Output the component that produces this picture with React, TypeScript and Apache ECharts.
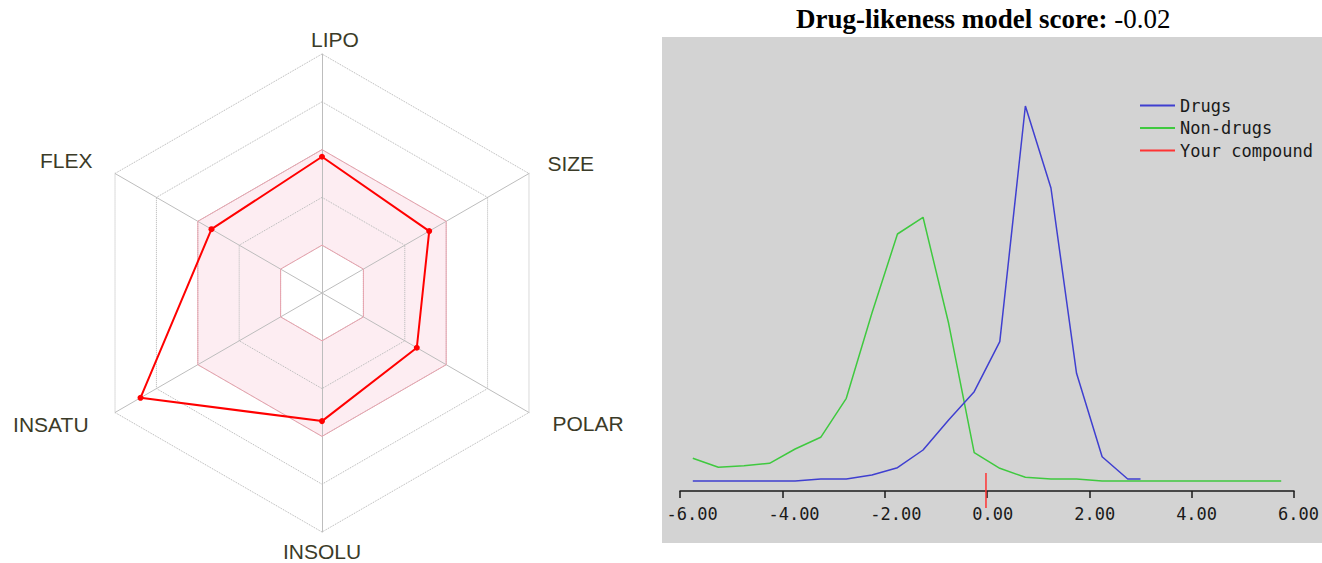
import React, { useEffect, useRef } from 'react';
import * as echarts from 'echarts';

// ---------- Radar (bioavailability) data ----------
const radarIndicators = ['LIPO', 'FLEX', 'INSATU', 'INSOLU', 'POLAR', 'SIZE'];
const compoundRadar = [0.57, 0.534, 0.877, 0.536, 0.458, 0.518];
const optimalUpper = [0.6, 0.6, 0.6, 0.6, 0.6, 0.6];
const optimalLower = [0.2, 0.2, 0.2, 0.2, 0.2, 0.2];

// ---------- Drug-likeness distribution data ----------
const compoundScore = -0.02;
const nonDrugX = [-5.75, -5.25, -4.75, -4.25, -3.75, -3.25, -2.75, -2.25, -1.75, -1.25, -0.75, -0.25, 0.25, 0.75, 1.25, 1.75, 2.25, 2.75, 3.25, 3.75, 4.25, 4.75, 5.25, 5.75];
const nonDrugs = [2.27, 1.37, 1.53, 1.77, 3.2, 4.37, 8.27, 16.77, 24.7, 26.37, 15.77, 2.83, 1.27, 0.37, 0.2, 0.2, 0, 0, 0, 0, 0, 0, 0, 0];
const drugX = [-5.75, -5.25, -4.75, -4.25, -3.75, -3.25, -2.75, -2.25, -1.75, -1.25, -0.75, -0.25, 0.25, 0.75, 1.25, 1.75, 2.25, 2.75, 3.0];
const drugs = [0, 0, 0, 0, 0, 0.2, 0.2, 0.6, 1.33, 3.1, 6.1, 8.93, 13.93, 37.5, 29.3, 10.77, 2.43, 0.2, 0.2];
const markerY = [0.8, -2.7];
const xMin = -6;
const xMax = 6;
const xInterval = 2;
const legendNames = ['Drugs', 'Non-drugs', 'Your compound'];

const labelFont = 'Liberation Sans, Arial, sans-serif';
const labelColor = '#3b3b28';
const monoFont = 'DejaVu Sans Mono, monospace';

const radarLabelStyle: Record<string, string> = {
  LIPO: 'top',
  FLEX: 'ul',
  INSATU: 'll',
  INSOLU: 'bottom',
  POLAR: 'lr',
  SIZE: 'ur',
};

const rs = (padding: number[]) => ({
  fontFamily: labelFont,
  fontSize: 21,
  color: labelColor,
  padding,
});

export default function App() {
  const ref = useRef<HTMLDivElement>(null);

  useEffect(() => {
    if (!ref.current) return;
    const chart = echarts.init(ref.current, undefined, { renderer: 'svg' });

    const option: any = {
      animation: false,
      backgroundColor: '#ffffff',
      title: {
        text: '{b|Drug-likeness model score: }{r|' + compoundScore.toFixed(2) + '}',
        left: 796,
        top: 5,
        padding: 0,
        textStyle: {
          rich: {
            b: { fontFamily: 'Liberation Serif, Times New Roman, serif', fontWeight: 'bold', fontSize: 27, color: '#000' },
            r: { fontFamily: 'Liberation Serif, Times New Roman, serif', fontWeight: 'normal', fontSize: 27, color: '#000' },
          },
        },
      },
      graphic: [
        {
          type: 'rect',
          z: -10,
          silent: true,
          shape: { x: 662, y: 37, width: 660, height: 506 },
          style: { fill: '#d3d3d3' },
        },
      ],
      legend: {
        data: legendNames,
        orient: 'vertical',
        left: 1140,
        top: 97,
        padding: 0,
        itemWidth: 35,
        itemHeight: 2,
        itemGap: 5.5,
        icon: 'rect',
        textStyle: { fontFamily: monoFont, fontSize: 17, color: '#1a1a1a', lineHeight: 17 },
      },
      radar: {
        center: [322, 293],
        radius: 239,
        startAngle: 90,
        splitNumber: 5,
        shape: 'polygon',
        nameGap: 4,
        indicator: radarIndicators.map((n) => ({ name: n, min: 0, max: 1 })),
        axisName: {
          formatter: (name: string) => '{' + radarLabelStyle[name] + '|' + name + '}',
          fontFamily: labelFont,
          fontSize: 21,
          color: labelColor,
          rich: {
            top: rs([0, 0, 0, 26]),
            bottom: rs([5, 0, 0, 0]),
            ur: rs([0, 0, 16, 15]),
            ul: rs([0, 19, 22, 0]),
            ll: rs([20, 23, 0, 0]),
            lr: rs([17, 0, 0, 20]),
          },
        },
        splitLine: { lineStyle: { color: '#b4b4b4', type: 'dotted', width: 1 } },
        splitArea: {
          show: true,
          areaStyle: {
            color: ['#ffffff', '#fdedf2', '#fdedf2', 'rgba(255,255,255,0)', 'rgba(255,255,255,0)'],
          },
        },
        axisLine: { lineStyle: { color: '#bdbdbd', width: 1 } },
      },
      grid: [
        { left: 680, right: 28, top: 41, bottom: 72 },
        { left: 666.5, right: 41.5, top: 41, bottom: 72 },
      ],
      xAxis: [
        {
          type: 'value',
          gridIndex: 0,
          min: xMin,
          max: xMax,
          interval: xInterval,
          axisLine: { show: true, onZero: false, lineStyle: { color: '#1a1a1a', width: 1.5 } },
          axisTick: { show: true, length: 7, lineStyle: { color: '#1a1a1a', width: 1.5 } },
          axisLabel: { show: false },
          splitLine: { show: false },
        },
        {
          type: 'value',
          gridIndex: 1,
          min: xMin,
          max: xMax,
          interval: xInterval,
          axisLine: { show: false },
          axisTick: { show: false },
          splitLine: { show: false },
          axisLabel: {
            show: true,
            align: 'left',
            margin: 14,
            interval: 0,
            showMinLabel: true,
            showMaxLabel: true,
            fontFamily: monoFont,
            fontSize: 17,
            color: '#1a1a1a',
            formatter: (v: number) => v.toFixed(2),
          },
        },
      ],
      yAxis: [
        { type: 'value', gridIndex: 0, min: -1, max: 44, show: false },
        { type: 'value', gridIndex: 1, min: -1, max: 44, show: false },
      ],
      series: [
        {
          type: 'radar',
          name: 'optimal range',
          silent: true,
          symbol: 'none',
          z: 1,
          lineStyle: { color: '#e8a3ae', width: 1 },
          data: [{ value: optimalUpper }, { value: optimalLower }],
        },
        {
          type: 'radar',
          name: 'compound profile',
          symbol: 'circle',
          symbolSize: 6,
          z: 3,
          lineStyle: { color: '#ff0000', width: 2 },
          itemStyle: { color: '#ff0000' },
          data: [{ value: compoundRadar }],
        },
        {
          type: 'line',
          name: 'Drugs',
          xAxisIndex: 0,
          yAxisIndex: 0,
          symbol: 'none',
          color: '#3f3fd0',
          lineStyle: { width: 1.5, color: '#3f3fd0' },
          data: drugX.map((x, i) => [x, drugs[i]]),
          z: 4,
        },
        {
          type: 'line',
          name: 'Non-drugs',
          xAxisIndex: 0,
          yAxisIndex: 0,
          symbol: 'none',
          color: '#3fc93f',
          lineStyle: { width: 1.5, color: '#3fc93f' },
          data: nonDrugX.map((x, i) => [x, nonDrugs[i]]),
          z: 3,
        },
        {
          type: 'line',
          name: 'Your compound',
          xAxisIndex: 0,
          yAxisIndex: 0,
          symbol: 'none',
          clip: false,
          color: '#ff3333',
          lineStyle: { width: 1.5, color: '#ff3333' },
          data: markerY.map((y) => [compoundScore, y]),
          z: 5,
        },
      ],
    };

    chart.setOption(option);
    return () => chart.dispose();
  }, []);

  return (
    <div
      ref={ref}
      style={{ position: 'fixed', left: 0, top: 0, width: 1322, height: 563 }}
    />
  );
}
